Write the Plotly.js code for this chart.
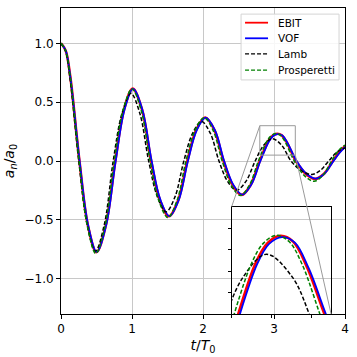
<!DOCTYPE html>
<html>
<head>
<meta charset="utf-8">
<script src="https://cdn.plot.ly/plotly-3.0.1.min.js"></script>
<style>
  html, body { margin: 0; padding: 0; background: #fff; }
  #chart { width: 357px; height: 357px; }
</style>
</head>
<body>
<div id="chart"></div>
<script>
// values (t/T0, a_n/a0)
const ebitT = [0, 0.065, 0.13, 0.26, 0.38, 0.50, 0.63, 0.765, 0.89, 1.01, 1.14, 1.27, 1.395, 1.52, 1.65, 1.78, 1.905, 2.03, 2.16, 2.29, 2.42, 2.545, 2.67, 2.80, 2.92, 2.98, 3.045, 3.11, 3.18, 3.31, 3.445, 3.58, 3.705, 3.83, 3.92, 4.0];
const ebitA = [1.0, 0.94, 0.72, 0.0, -0.55, -0.775, -0.55, 0.0, 0.44, 0.615, 0.44, 0.0, -0.335, -0.47, -0.335, 0.0, 0.265, 0.37, 0.265, 0.0, -0.205, -0.288, -0.205, 0.0, 0.168, 0.215, 0.232, 0.218, 0.158, 0.0, -0.108, -0.152, -0.108, 0.0, 0.075, 0.125];

const vofT = [0, 0.065, 0.13, 0.262, 0.383, 0.503, 0.635, 0.77, 0.895, 1.015, 1.145, 1.277, 1.402, 1.528, 1.658, 1.788, 1.913, 2.038, 2.168, 2.298, 2.428, 2.553, 2.678, 2.808, 2.928, 2.988, 3.053, 3.118, 3.188, 3.318, 3.453, 3.59, 3.713, 3.838, 3.925, 4.0];
const vofA = [1.0, 0.94, 0.72, 0.0, -0.548, -0.772, -0.548, 0.0, 0.438, 0.613, 0.438, 0.0, -0.333, -0.468, -0.333, 0.0, 0.262, 0.368, 0.262, 0.0, -0.203, -0.286, -0.203, 0.0, 0.166, 0.213, 0.229, 0.216, 0.156, 0.0, -0.106, -0.15, -0.106, 0.0, 0.07, 0.12];

const lambT = [0, 0.063, 0.125, 0.25, 0.368, 0.485, 0.61, 0.735, 0.86, 0.985, 1.11, 1.235, 1.358, 1.48, 1.605, 1.73, 1.855, 1.98, 2.102, 2.225, 2.348, 2.47, 2.602, 2.735, 2.855, 2.975, 3.108, 3.24, 3.385, 3.53, 3.65, 3.77, 3.89, 4.0];
const lambA = [1.0, 0.935, 0.71, 0.0, -0.54, -0.765, -0.54, 0.0, 0.405, 0.575, 0.405, 0.0, -0.305, -0.432, -0.305, 0.0, 0.237, 0.335, 0.237, 0.0, -0.175, -0.248, -0.175, 0.0, 0.134, 0.189, 0.134, 0.0, -0.081, -0.115, -0.081, 0.0, 0.078, 0.11];

const prospT = [0, 0.064, 0.13, 0.255, 0.372, 0.49, 0.62, 0.75, 0.875, 1.00, 1.128, 1.255, 1.38, 1.505, 1.632, 1.76, 1.888, 2.015, 2.142, 2.27, 2.398, 2.525, 2.652, 2.78, 2.90, 2.96, 3.025, 3.09, 3.155, 3.285, 3.425, 3.565, 3.688, 3.81, 3.91, 4.0];
const prospA = [1.0, 0.938, 0.715, 0.0, -0.555, -0.785, -0.555, 0.0, 0.433, 0.612, 0.433, 0.0, -0.34, -0.48, -0.34, 0.0, 0.26, 0.368, 0.26, 0.0, -0.207, -0.293, -0.207, 0.0, 0.168, 0.215, 0.233, 0.218, 0.165, 0.0, -0.122, -0.172, -0.122, 0.0, 0.09, 0.135];

const names = ['EBIT', 'VOF', 'Lamb', 'Prosperetti'];
const xTicks = [0, 1, 2, 3, 4];
const yTicks = [-1.0, -0.5, 0.0, 0.5, 1.0];
const zoomX = [2.8, 3.3];
const zoomY = [0.05, 0.3];

const mainX = [0, 4];
const mainY = [-1.3, 1.3];
const insetDomX = [0.601, 0.951];
const insetDomY = [0.0, 0.351];

const styles = [
    { color: '#ff0000', width: 2.6 },
    { color: '#0000ff', width: 1.8 },
    { color: '#000000', width: 1.5, dash: '4px,2px' },
    { color: '#008000', width: 1.5, dash: '4px,2px' }
];
const xs = [ebitT, vofT, lambT, prospT];
const ys = [ebitA, vofA, lambA, prospA];

const data = [];
names.forEach((n, i) => {
    data.push({
        x: xs[i], y: ys[i], name: n, type: 'scatter', mode: 'lines',
        line: { ...styles[i], shape: 'spline', smoothing: 1 }
    });
});
names.forEach((n, i) => {
    data.push({
        x: xs[i], y: ys[i], name: n, type: 'scatter', mode: 'lines',
        xaxis: 'x2', yaxis: 'y2',
        line: { ...styles[i], shape: 'spline', smoothing: 1 }
    });
});

// data coords of the inset corners in main axes
function toMainX(p) { return mainX[0] + p * (mainX[1] - mainX[0]); }
function toMainY(p) { return mainY[0] + p * (mainY[1] - mainY[0]); }

const gray = '#9a9a9a';
const shapes = [
    { type: 'rect', xref: 'x', yref: 'y', x0: zoomX[0], x1: zoomX[1], y0: zoomY[0], y1: zoomY[1],
      line: { color: gray, width: 1 } },
    { type: 'line', xref: 'x', yref: 'y', x0: zoomX[0], y0: zoomY[1],
      x1: toMainX(insetDomX[0]), y1: toMainY(insetDomY[1]), line: { color: gray, width: 1 } },
    { type: 'line', xref: 'x', yref: 'y', x0: zoomX[1], y0: zoomY[0],
      x1: toMainX(insetDomX[1]), y1: toMainY(insetDomY[0]), line: { color: gray, width: 1 } }
];

// legend box, matplotlib style (paper coords)
const annotations = [];
shapes.push({ type: 'rect', xref: 'paper', yref: 'paper', x0: 0.634, x1: 0.979, y0: 0.765, y1: 0.980,
    fillcolor: 'rgba(255,255,255,0.85)', line: { color: '#d4d4d4', width: 1 } });
const rowY = [0.952, 0.901, 0.850, 0.797];
names.forEach((n, i) => {
    shapes.push({ type: 'line', xref: 'paper', yref: 'paper', x0: 0.648, x1: 0.729, y0: rowY[i], y1: rowY[i],
        line: { color: styles[i].color, width: i < 2 ? 1.8 : 1.4, dash: styles[i].dash || 'solid' } });
    annotations.push({ xref: 'paper', yref: 'paper', x: 0.757, y: rowY[i], text: n, showarrow: false,
        xanchor: 'left', yanchor: 'middle', font: { family: 'DejaVu Sans', size: 10.5, color: '#000' } });
});

const tickFont = { family: 'DejaVu Sans', size: 12, color: '#000' };

const layout = {
    width: 357, height: 357,
    margin: { l: 61, r: 12, t: 8, b: 43 },
    paper_bgcolor: '#fff',
    plot_bgcolor: 'rgba(0,0,0,0)',
    font: { family: 'DejaVu Sans', color: '#000' },
    showlegend: false,
    xaxis: {
        domain: [0, 1], range: mainX, tickvals: xTicks, ticktext: xTicks.map(String),
        ticks: 'outside', ticklen: 4, tickwidth: 1, tickcolor: '#000',
        showline: true, linecolor: '#000', linewidth: 1, mirror: true,
        showgrid: true, gridcolor: '#c8c8c8', gridwidth: 1, zeroline: false,
        tickfont: tickFont,
        title: { text: '<i>t</i>/<i>T</i><sub>0</sub>', font: { family: 'DejaVu Sans', size: 14 }, standoff: 4 }
    },
    yaxis: {
        domain: [0, 1], range: mainY, tickvals: yTicks, tickformat: '.1f',
        ticks: 'outside', ticklen: 4, tickwidth: 1, tickcolor: '#000',
        showline: true, linecolor: '#000', linewidth: 1, mirror: true,
        showgrid: true, gridcolor: '#c8c8c8', gridwidth: 1, zeroline: false,
        tickfont: tickFont,
        title: { text: '<i>a</i><sub><i>n</i></sub>/<i>a</i><sub>0</sub>', font: { family: 'DejaVu Sans', size: 14 }, standoff: 6 }
    },
    xaxis2: {
        domain: insetDomX, range: zoomX, anchor: 'y2', dtick: 0.2, tick0: 2.8,
        ticks: 'outside', ticklen: 3, tickwidth: 1, tickcolor: '#000', showticklabels: false,
        showline: true, linecolor: '#000', linewidth: 1, mirror: true,
        showgrid: false, zeroline: false
    },
    yaxis2: {
        domain: insetDomY, range: zoomY, anchor: 'x2', tickvals: [0.1, 0.15, 0.2, 0.25],
        ticks: 'outside', ticklen: 3, tickwidth: 1, tickcolor: '#000', showticklabels: false,
        showline: true, linecolor: '#000', linewidth: 1, mirror: true,
        showgrid: false, zeroline: false
    },
    shapes: shapes,
    annotations: annotations
};

Plotly.newPlot('chart', data, layout, { displayModeBar: false, staticPlot: true });
</script>
</body>
</html>
